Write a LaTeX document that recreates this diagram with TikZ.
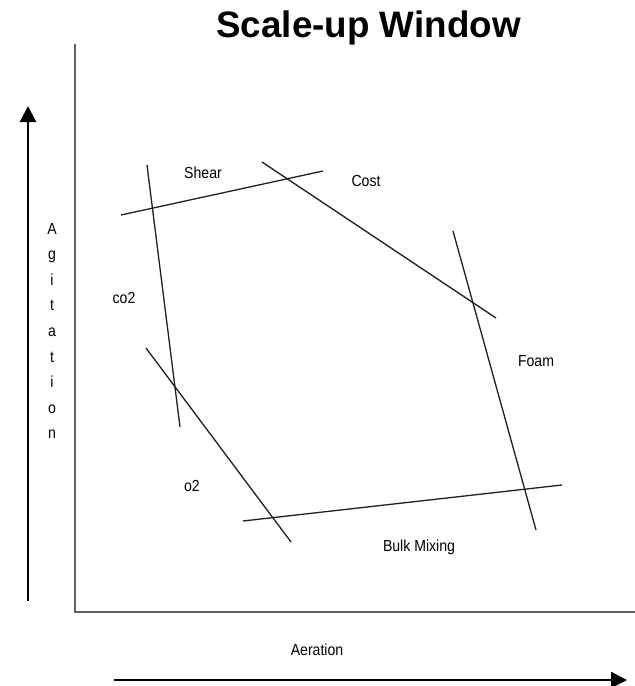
\documentclass[tikz,border=0pt]{standalone}
\usepackage{fontspec}
\setmainfont{Liberation Sans}
\newfontfamily\narrowsans[FakeStretch=0.88]{Liberation Sans}
\usetikzlibrary{arrows.meta}
\begin{document}
\begin{tikzpicture}[x=1pt,y=-1pt,
  lbl/.style={inner sep=0pt,font=\narrowsans\fontsize{16}{18}\selectfont},
  axisline/.style={draw=black!62,line width=2pt},
  bigarrow/.style={draw=black,line width=2.2pt,-{Triangle[length=16pt,width=16pt]}},
  limitline/.style={draw=black!88,line width=1.3pt}]
\useasboundingbox (0,0) rectangle (635,686);

% title
\node[inner sep=0pt,anchor=base,font=\fontsize{36.8}{40}\selectfont\bfseries] (title) at (368.5,37.5) {Scale-up Window};

% axes
\coordinate (axtop) at (75,44);
\coordinate (origin) at (75,612);
\coordinate (axright) at (635,612);
\draw[axisline] (axtop) -- (origin) -- (axright);

% direction arrows
\coordinate (vstart) at (28,601);
\coordinate (vend) at (28,106);
\draw[bigarrow] (vstart) -- (vend);
\coordinate (hstart) at (114,680);
\coordinate (hend) at (627,680);
\draw[bigarrow] (hstart) -- (hend);

% operating limits
\coordinate (shearA) at (121,215); \coordinate (shearB) at (323,171);
\coordinate (costA) at (262,162);  \coordinate (costB) at (496,318);
\coordinate (coA) at (147,165);    \coordinate (coB) at (180,427);
\coordinate (foamA) at (453,231);  \coordinate (foamB) at (536,530);
\coordinate (oA) at (146,348);     \coordinate (oB) at (291,542);
\coordinate (bulkA) at (243,521);  \coordinate (bulkB) at (562,485);
\draw[limitline] (shearA) -- (shearB);
\draw[limitline] (costA) -- (costB);
\draw[limitline] (coA) -- (coB);
\draw[limitline] (foamA) -- (foamB);
\draw[limitline] (oA) -- (oB);
\draw[limitline] (bulkA) -- (bulkB);

% labels
\node[lbl] (lshear) at (203,173) {Shear};
\node[lbl] (lcost) at (366,181) {Cost};
\node[lbl] (lco) at (124,298) {co2};
\node[lbl] (lfoam) at (536,361) {Foam};
\node[lbl] (lo) at (192,486) {o2};
\node[lbl] (lbulk) at (419,547) {Bulk Mixing};
\node[lbl] (laer) at (317,650) {Aeration};

% vertical axis title, one letter per line
\foreach \ch [count=\i] in {A,g,i,t,a,t,i,o,n}
  \node[lbl,anchor=base] (agi\i) at (52,{234+25.6*(\i-1)}) {\ch};
\end{tikzpicture}
\end{document}
